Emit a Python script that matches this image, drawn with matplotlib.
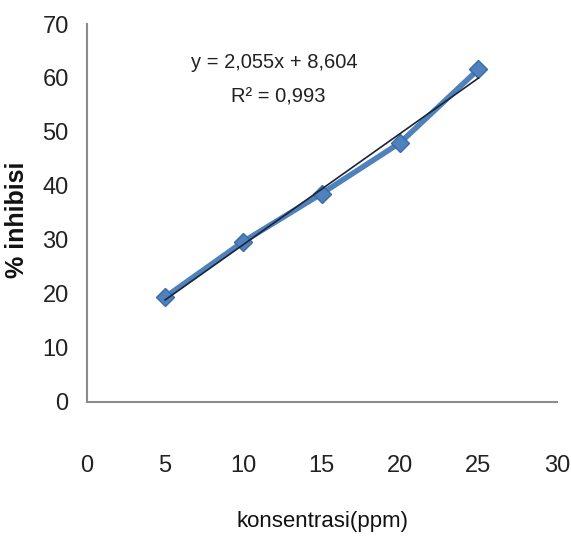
import numpy as np
import matplotlib
matplotlib.use("Agg")
import matplotlib.pyplot as plt

# concentration (ppm) vs % inhibition
konsentrasi = [5, 10, 15, 20, 25]
inhibisi = [19.4, 29.7, 38.6, 48.0, 61.6]

# linear trendline as reported
slope = 2.055
intercept = 8.604
r2 = 0.993

x_ticks = [0, 5, 10, 15, 20, 25, 30]
y_ticks = [0, 10, 20, 30, 40, 50, 60, 70]

plt.rcParams['font.family'] = ['Liberation Sans', 'DejaVu Sans']

fig = plt.figure(figsize=(5.71, 5.46), dpi=100)
ax = fig.add_axes([0.152, 0.264, 0.823, 0.692])

ax.plot(konsentrasi, inhibisi, color='#4F81BD', lw=4, marker='D',
        markersize=9, markeredgecolor='#3C6AA5', markerfacecolor='#4F81BD',
        zorder=2)

xt = np.array([konsentrasi[0], konsentrasi[-1]])
ax.plot(xt, slope * xt + intercept, color='#1a2433', lw=1.2, zorder=3)

ax.set_xlim(0, 30)
ax.set_ylim(0, 70)
ax.set_xticks(x_ticks)
ax.set_yticks(y_ticks)
ax.tick_params(axis='both', length=0, labelsize=17, colors='#222222')
ax.tick_params(axis='x', pad=38)
ax.tick_params(axis='y', pad=13)

for s in ['top', 'right']:
    ax.spines[s].set_visible(False)
for s in ['left', 'bottom']:
    ax.spines[s].set_color('#8C8C8C')
    ax.spines[s].set_linewidth(1.5)

def fmt(v):
    return ("%.3f" % v).replace('.', ',')

ax.text(0.398, 0.899, "y = %sx + %s" % (fmt(slope), fmt(intercept)),
        transform=ax.transAxes, ha='center', va='center',
        fontsize=14.5, color='#222222')
ax.text(0.408, 0.806, "R\u00b2 = %s" % fmt(r2),
        transform=ax.transAxes, ha='center', va='center', fontsize=14.5,
        color='#222222')

fig.text(0.03, 0.597, "% inhibisi", rotation=90, ha='center', va='center',
         fontsize=18, fontweight='bold', color='#111111')
fig.text(0.564, 0.044, "konsentrasi(ppm)", ha='center', va='center',
         fontsize=16, color='#111111')

plt.savefig("out.png", dpi=100)
